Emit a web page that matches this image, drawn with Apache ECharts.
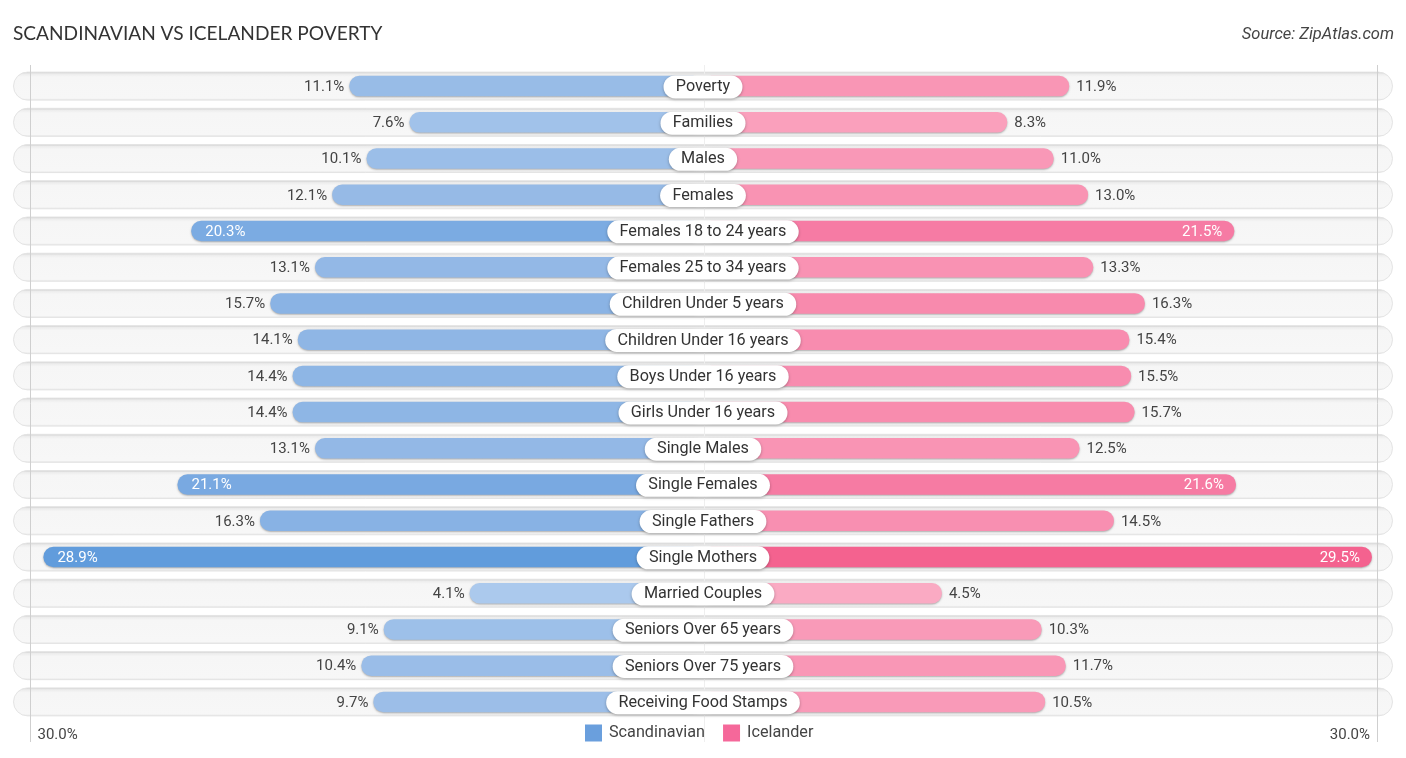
<!DOCTYPE html>
<html>
<head>
<meta charset="utf-8">
<title>Scandinavian vs Icelander Poverty</title>
<style>
  html, body { margin: 0; background: #fff; }
  #chart { width: 1406px; height: 758px; }
</style>
<script src="https://cdn.jsdelivr.net/npm/echarts@6/dist/echarts.min.js"></script>
</head>
<body>
<div id="chart"></div>
<script>
// Data
const categories = ['Poverty', 'Families', 'Males', 'Females', 'Females 18 to 24 years', 'Females 25 to 34 years',
    'Children Under 5 years', 'Children Under 16 years', 'Boys Under 16 years', 'Girls Under 16 years', 'Single Males',
    'Single Females', 'Single Fathers', 'Single Mothers', 'Married Couples', 'Seniors Over 65 years',
    'Seniors Over 75 years', 'Receiving Food Stamps'];
const scandinavian = [11.1, 7.6, 10.1, 12.1, 20.3, 13.1, 15.7, 14.1, 14.4, 14.4, 13.1, 21.1, 16.3, 28.9, 4.1, 9.1, 10.4, 9.7];
const icelander = [11.9, 8.3, 11.0, 13.0, 21.5, 13.3, 16.3, 15.4, 15.5, 15.7, 12.5, 21.6, 14.5, 29.5, 4.5, 10.3, 11.7, 10.5];
const frameTicks = [-30, 0, 30];

// Bars grow out of the middle of the chart, 0% sits beside the label pills
const axisStart = -9.48;
const axisEnd = 30;
const insideFrom = 20;

const blueRamp = ['#abc9ed', '#94b9e6', '#78a9e1', '#5e9adb'];
const pinkRamp = ['#faabc4', '#f994b4', '#f67ca4', '#f4608e'];

const chart = echarts.init(document.getElementById('chart'));

function barRenderer(ramp, side) {
    return (params, api) => {
        const value = api.value(0);
        const end = api.coord([value, api.value(1)]);
        const start = api.coord([axisStart, api.value(1)]);
        const height = 20.5;
        const inside = value >= insideFrom;
        const x = Math.min(start[0], end[0]);
        const position = inside ? (side === 'left' ? 'insideLeft' : 'insideRight') : side;
        let distance = side === 'left' ? 5 : 7;
        if (inside) distance = side === 'left' ? 14 : 12;
        return {
            type: 'rect',
            shape: { x: x, y: end[1] - height / 2, width: Math.abs(end[0] - start[0]), height: height, r: 10 },
            style: {
                fill: echarts.color.lerp((value - 4) / 26, ramp),
                shadowBlur: 2,
                shadowOffsetY: 1,
                shadowColor: 'rgba(0,0,0,0.3)'
            },
            textContent: {
                style: {
                    text: value.toFixed(1) + '%',
                    font: '15px Roboto',
                    fill: inside ? '#fff' : '#444'
                }
            },
            textConfig: { position: position, distance: distance, offset: [0, 1] }
        };
    };
}

const rowAxis = (gridIndex, extra) => Object.assign({
    type: 'category', gridIndex: gridIndex, data: categories, inverse: true, show: false
}, extra);

const barAxis = (gridIndex, inverse) => ({
    type: 'value', gridIndex: gridIndex, min: axisStart, max: axisEnd, inverse: inverse, show: false
});

const option = {
    backgroundColor: '#fff',
    animation: false,
    title: [
        {
            text: 'SCANDINAVIAN VS ICELANDER POVERTY', left: 13, top: 24, padding: 0,
            textStyle: { fontFamily: 'Lato', fontSize: 19.1, fontWeight: 400, color: '#333' }
        },
        {
            text: 'Source: ZipAtlas.com', right: 12, top: 26, padding: 0,
            textStyle: { fontFamily: 'Roboto', fontSize: 16.5, fontStyle: 'italic', fontWeight: 400, color: '#444' }
        }
    ],
    legend: {
        data: ['Scandinavian', 'Icelander'],
        left: 585, top: 724.5, padding: 0,
        itemWidth: 17, itemHeight: 17, itemGap: 18,
        icon: 'rect',
        textStyle: { fontFamily: 'Roboto', fontSize: 16.2, color: '#444', padding: [0, 0, 0, 2] }
    },
    grid: [
        { left: 13, width: 1380, top: 68, height: 652 },
        { left: 24.5, width: 678.5, top: 68, height: 652 },
        { left: 701.5, width: 679, top: 68, height: 652 },
        { left: 30.5, width: 1346.5, top: 65, height: 677 },
        { left: 703, width: 679, top: 68.8, height: 652 }
    ],
    xAxis: [
        { type: 'value', gridIndex: 0, min: 0, max: 1, show: false },
        barAxis(1, true),
        barAxis(2, false),
        {
            type: 'value', gridIndex: 3, min: frameTicks[0], max: frameTicks[2], interval: 30, z: 1,
            axisLine: { show: false },
            axisTick: { show: false },
            splitLine: { show: true, lineStyle: { color: ['#cfcfcf', '#efefef', '#cfcfcf'], width: 1 } },
            axisLabel: {
                inside: true, margin: -1,
                alignMinLabel: 'left', alignMaxLabel: 'right',
                padding: [0, 7, 0, 7],
                fontFamily: 'Roboto', fontSize: 15, color: '#444',
                formatter: v => (v === 0 ? '' : Math.abs(v).toFixed(1) + '%')
            }
        },
        barAxis(4, false)
    ],
    yAxis: [
        rowAxis(0),
        rowAxis(1),
        rowAxis(2),
        { type: 'value', gridIndex: 3, min: 0, max: 1, show: false },
        rowAxis(4, {
            // Label pills in the middle, on their own grid so they can sit a little lower
            show: true, z: 10,
            axisLine: { show: false },
            axisTick: { show: false },
            axisLabel: {
                interval: 0, margin: 0, align: 'center',
                fontFamily: 'Roboto', fontSize: 16.2, color: '#333',
                backgroundColor: '#fff', borderRadius: 12, padding: [3.5, 12.3, 3.5, 12.3],
                shadowBlur: 3, shadowOffsetY: 1, shadowColor: 'rgba(0,0,0,0.3)'
            }
        })
    ],
    series: [
        {
            // Grey rows behind the bars
            type: 'bar', name: 'rows', xAxisIndex: 0, yAxisIndex: 0, z: 0, silent: true,
            barWidth: 29,
            data: categories.map(() => 1),
            itemStyle: {
                borderRadius: 14.5, borderColor: '#e4e4e4', borderWidth: 1,
                color: new echarts.graphic.LinearGradient(0, 0, 0, 1, [
                    { offset: 0, color: '#c6c6c6' },
                    { offset: 0.08, color: '#ececec' },
                    { offset: 0.18, color: '#f6f6f6' },
                    { offset: 0.92, color: '#f7f7f7' },
                    { offset: 1, color: '#e0e0e0' }
                ])
            }
        },
        {
            type: 'custom', name: 'Scandinavian', xAxisIndex: 1, yAxisIndex: 1, z: 2,
            renderItem: barRenderer(blueRamp, 'left'),
            encode: { x: 0, y: 1 },
            itemStyle: { color: '#6a9fdd' },
            data: scandinavian.map((v, i) => [v, i])
        },
        {
            type: 'custom', name: 'Icelander', xAxisIndex: 2, yAxisIndex: 2, z: 2,
            renderItem: barRenderer(pinkRamp, 'right'),
            encode: { x: 0, y: 1 },
            itemStyle: { color: '#f5689a' },
            data: icelander.map((v, i) => [v, i])
        }
    ]
};

chart.setOption(option);
</script>
</body>
</html>
